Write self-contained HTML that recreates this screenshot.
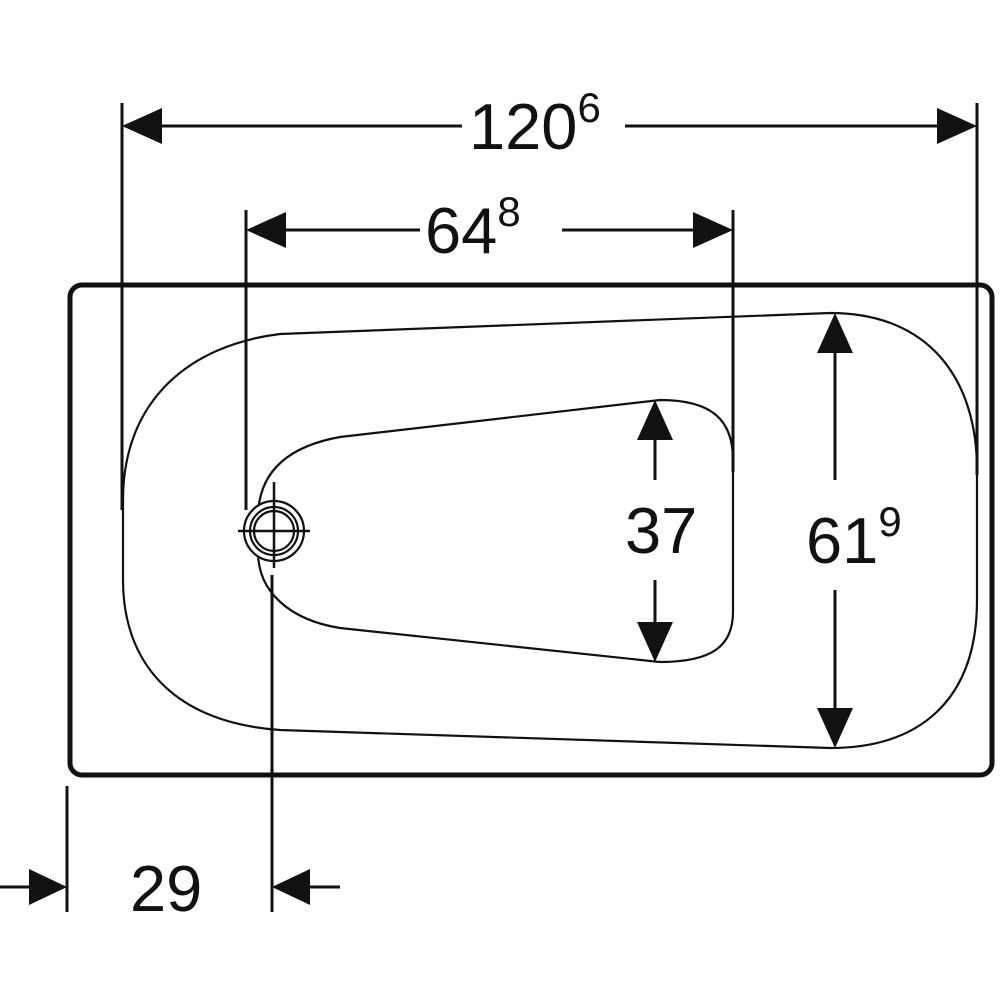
<!DOCTYPE html>
<html><head><meta charset="utf-8"><style>html,body{margin:0;padding:0;background:#fff}svg{display:block}</style></head>
<body>
<svg width="1000" height="1000" viewBox="0 0 1000 1000" xmlns="http://www.w3.org/2000/svg" font-family="Liberation Sans, Arial, sans-serif" fill="none" stroke="#111">
<rect x="70" y="285" width="922" height="490" rx="12" stroke-width="5"/>
<g stroke-width="3">
<line x1="122" y1="103" x2="122" y2="510"/>
<line x1="246" y1="210" x2="246" y2="510"/>
<line x1="733" y1="210" x2="733" y2="472"/>
<line x1="977" y1="103" x2="977" y2="475"/>
<line x1="272" y1="575" x2="272" y2="912"/>
<line x1="67" y1="786" x2="67" y2="912"/>
</g>
<path d="M 280 334 L 830 313 C 930 313 977 380 977 470 L 977 600 C 977 700 920 748 830 748 L 280 730 C 170 722 123 660 123 580 L 123 500 C 123 400 190 345 280 334 Z" stroke-width="2.2"/>
<path d="M 660 400 C 712 400 733 420 733 460 L 733 612 C 733 646 712 662 660 662 L 340 628 C 290 620 258 592 258 552 L 258 518 C 258 470 290 446 340 437 Z" stroke-width="2.2"/>
<g stroke-width="2.2" fill="#fff">
<circle cx="274" cy="531" r="30"/>
<circle cx="274" cy="531" r="24"/>
<circle cx="274" cy="531" r="20"/>
</g>
<line x1="238" y1="531" x2="310" y2="531" stroke-width="2.5"/>
<line x1="274" y1="482" x2="274" y2="568" stroke-width="2.5"/>
<g stroke-width="3">
<line x1="125" y1="126" x2="462" y2="126"/>
<line x1="625" y1="126" x2="974" y2="126"/>
<line x1="249" y1="230" x2="420" y2="230"/>
<line x1="562" y1="230" x2="730" y2="230"/>
<line x1="655" y1="403" x2="655" y2="480"/>
<line x1="655" y1="580" x2="655" y2="659"/>
<line x1="835" y1="316" x2="835" y2="480"/>
<line x1="835" y1="590" x2="835" y2="745"/>
<line x1="0" y1="887" x2="64" y2="887"/>
<line x1="275" y1="887" x2="340" y2="887"/>
</g>
<g fill="#111" stroke="none">
<polygon points="122,126 162,108 162,144"/>
<polygon points="977,126 937,108 937,144"/>
<polygon points="246,230 286,212 286,248"/>
<polygon points="733,230 693,212 693,248"/>
<polygon points="655,400 637,440 673,440"/>
<polygon points="655,662 637,622 673,622"/>
<polygon points="835,313 817,353 853,353"/>
<polygon points="835,748 817,708 853,708"/>
<polygon points="67,887 29,869 29,905"/>
<polygon points="272,887 310,869 310,905"/>
</g>
<g fill="#111" stroke="none" font-size="65">
<text x="469" y="149">120<tspan font-size="42" dy="-27">6</tspan></text>
<text x="425" y="253">64<tspan font-size="42" dy="-27">8</tspan></text>
<text x="625" y="553">37</text>
<text x="806" y="563">61<tspan font-size="42" dy="-27">9</tspan></text>
<text x="130" y="911">29</text>
</g>
</svg>
</body></html>
